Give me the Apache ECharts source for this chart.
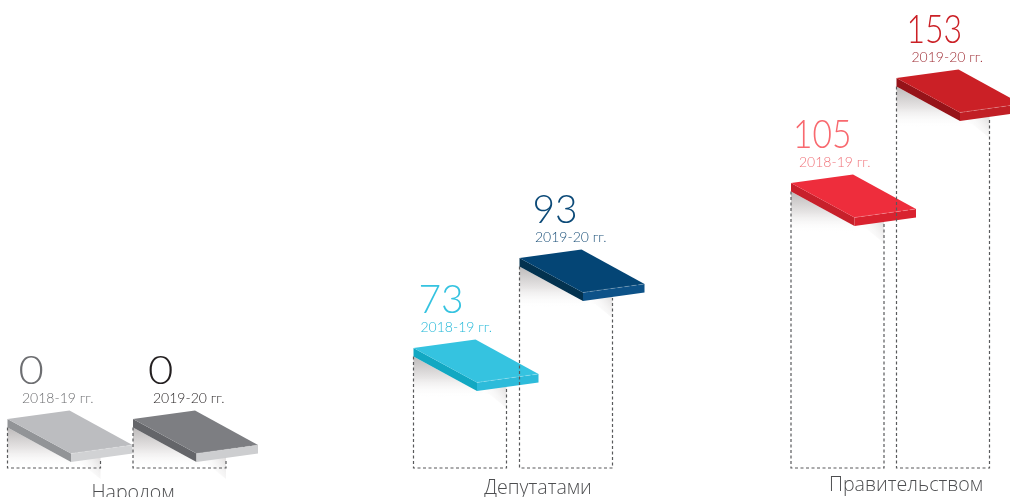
<!DOCTYPE html>
<html><head><meta charset="utf-8">
<style>html,body{margin:0;padding:0;background:#fff}#c{width:1010px;height:497px}</style>
<script src="https://cdn.jsdelivr.net/npm/echarts@6/dist/echarts.min.js"></script>
</head><body><div id="c"></div>
<script>
// Data
const categories = ['Народом','Депутатами','Правительством'];
const periods = ['2018-19 гг.','2019-20 гг.'];
const values = [0,0,73,93,105,153];
const groupOf = [0,0,1,1,2,2];
const periodOf = [0,1,0,1,0,1];
// The source infographic is not to a linear scale: drawn height of each plank above the floor
const drawnHeights = [49,49,120,210,285,390];

// Layout
const slotX = [7.5,133,413.5,519.5,791,896.5];
const numDx = [11,15,5,13,2,10], subDx = [14.5,20,7,15.5,8,15];
const numScaleX = [1.12,1.12,1,1,0.86,0.82];
const catX = [133,538,906], catDrop = [25.5,20,17];
const styles = [
 {top:'#BCBDC0',left:'#929497',front:'#D1D2D4',num:'#6D6E71',sub:'#6D6E71'},
 {top:'#7D7E82',left:'#646569',front:'#CDCED0',num:'#231F20',sub:'#231F20'},
 {top:'#35C3E0',left:'#12A8C2',front:'#2DBBDA',num:'#35C3E0',sub:'#22B8D8'},
 {top:'#044575',left:'#03324F',front:'#0D5288',num:'#0C4A78',sub:'#1A4F78'},
 {top:'#EE2D3C',left:'#C7202B',front:'#D9222F',num:'#F8696F',sub:'#F0737A'},
 {top:'#CB2026',left:'#961319',front:'#C11F25',num:'#CB2026',sub:'#9E2B33'}
];
const FONT = 'Lato';

function poly(pts, fill, extra){ return Object.assign({type:'polygon',shape:{points:pts},style:{fill:fill},silent:true},extra||{}); }
function renderPlank(params, api){
  const i = params.dataIndex, s = styles[i];
  const p = api.coord([api.value(0), api.value(1)]);
  const base = api.coord([0,0])[1];
  const x = p[0], y = p[1], T = 8.5, W = 93;
  const B=[x+62,y-8.5], R=[x+125,y+26], F=[x+63.5,y+34.5], L=[x,y];
  const vGrad = new echarts.graphic.LinearGradient(0,0,0,1,[{offset:0,color:'#BDBABA'},{offset:0.5,color:'#E6E4E4'},{offset:1,color:'rgba(255,255,255,0)'}]);
  const rGrad = new echarts.graphic.LinearGradient(1,0,0,1,[{offset:0,color:'#DEDCDC'},{offset:0.7,color:'rgba(255,255,255,0)'}]);
  const children = [
    poly([[x,y+T],[F[0],F[1]+T],[F[0]+6,y+44],[F[0],y+50],[x,y+48]], vGrad),
    poly([[F[0],F[1]+T],[x+W,y+38],[x+W,y+60],[F[0]+12,y+46]], rGrad),
    {type:'polyline',shape:{points:[[x,y+T],[x,base],[x+W,base],[x+W,y+40]]},
     style:{fill:null,stroke:'#58595B',lineWidth:1.2,lineDash:[3,2.5]},silent:true},
    poly([L,F,[F[0],F[1]+T],[x,y+T]], s.left),
    poly([F,R,[R[0],R[1]+T],[F[0],F[1]+T]], s.front),
    poly([L,B,R,F], s.top),
    {type:'line',shape:{x1:F[0],y1:F[1],x2:R[0],y2:R[1]},style:{stroke:'rgba(255,255,255,0.28)',lineWidth:0.8,lineDash:[5,2]},silent:true},
    {type:'text',x:x+numDx[i],y:y-47.5,scaleX:numScaleX[i],style:{text:String(api.value(2)),font:'300 39px '+FONT,fill:s.num,verticalAlign:'middle',align:'left'},silent:true},
    {type:'text',x:x+subDx[i],y:y-21,style:{text:periods[periodOf[i]],font:'300 14px '+FONT,fill:s.sub,verticalAlign:'middle',align:'left'},silent:true}
  ];
  return {type:'group',children:children};
}
function renderCategory(params, api){
  const i = params.dataIndex, p = api.coord([catX[i],-catDrop[i]]);
  return {type:'text',x:p[0],y:p[1],style:{text:categories[i],font:'300 19.6px "Open Sans"',fill:'#4D4E50',align:'center',verticalAlign:'middle'},silent:true};
}
const chart = echarts.init(document.getElementById('c'),null,{renderer:'canvas'});
chart.setOption({
  animation:false,
  grid:{left:0,right:0,top:0,bottom:0},
  xAxis:{type:'value',min:0,max:1010,show:false},
  yAxis:{type:'value',min:-29,max:468,show:false},
  tooltip:{show:false},
  series:[
    {type:'custom',clip:false,renderItem:renderPlank,
     encode:{x:0,y:1},
     data:values.map((v,i)=>[slotX[i],drawnHeights[i],v,groupOf[i]])},
    {type:'custom',clip:false,renderItem:renderCategory,encode:{x:0,y:1},
     data:categories.map((c,i)=>[catX[i],-catDrop[i]])}
  ]
});
</script></body></html>
